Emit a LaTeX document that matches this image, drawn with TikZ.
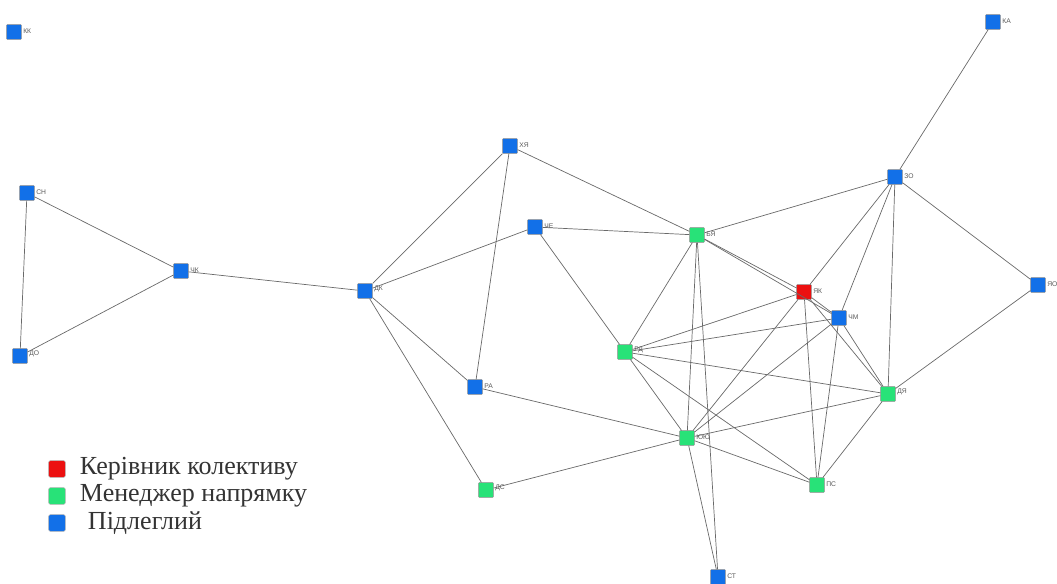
\documentclass[tikz,border=0pt]{standalone}
\usepackage{fontspec}
\setmainfont{Liberation Serif}
\setsansfont{Liberation Sans}
\usepackage{xcolor}
\definecolor{nwblue}{RGB}{18,112,232}
\definecolor{nwgreen}{RGB}{40,226,120}
\definecolor{nwred}{RGB}{236,16,16}
\definecolor{nwedge}{RGB}{105,105,105}
\definecolor{nwtext}{RGB}{90,90,90}
\usetikzlibrary{positioning}

\tikzset{
  member/.style={draw=black!45, line width=0.3pt, minimum size=0.37cm, inner sep=0pt, rounded corners=0.5pt},
  sub/.style={member, fill=nwblue},
  mgr/.style={member, fill=nwgreen},
  head/.style={member, fill=nwred},
  lbl/.style={font=\sffamily\fontsize{4.8}{5}\selectfont, text=nwtext, inner sep=1pt, anchor=south west},
  link/.style={nwedge, line width=0.5pt},
  keybox/.style={draw=black!30, minimum size=0.42cm, inner sep=0pt, rounded corners=1.5pt},
  keytext/.style={font=\fontsize{18.5}{20}\selectfont, text=black!80, anchor=west, inner sep=0pt}
}

\begin{document}
\begin{tikzpicture}[x=0.025cm, y=-0.025cm]
\useasboundingbox (0,0) rectangle (1057,584);

% ===== members =====
\node[sub,  label={[lbl]-20:КК}] (kk) at (14,32) {};
\node[sub,  label={[lbl]-20:СН}] (sn) at (27,193) {};
\node[sub,  label={[lbl]-20:ДО}] (do) at (20,356) {};
\node[sub,  label={[lbl]-20:ЧК}] (chk) at (181,271) {};
\node[sub,  label={[lbl]-20:ДК}] (dk) at (365,291) {};
\node[sub,  label={[lbl]-20:ХЯ}] (khya) at (510,146) {};
\node[sub,  label={[lbl]-20:ЧЕ}] (che) at (535,227) {};
\node[mgr,  label={[lbl]-20:БЯ}] (bya) at (697,235) {};
\node[mgr,  label={[lbl]-20:РД}] (rd) at (625,352) {};
\node[sub,  label={[lbl]-20:РА}] (ra) at (475,387) {};
\node[mgr,  label={[lbl]-20:ДС}] (ds) at (486,490) {};
\node[mgr,  label={[lbl]-20:ЮЮ}] (yuyu) at (687,438) {};
\node[sub,  label={[lbl]-20:СТ}] (st) at (718,577) {};
\node[mgr,  label={[lbl]-20:ПС}] (ps) at (817,485) {};
\node[mgr,  label={[lbl]-20:ДЯ}] (dya) at (888,394) {};
\node[sub,  label={[lbl]-20:ЧМ}] (chm) at (839,318) {};
\node[head, label={[lbl]-20:ЯК}] (yak) at (804,292) {};
\node[sub,  label={[lbl]-20:ЗО}] (zo) at (895,177) {};
\node[sub,  label={[lbl]-20:КА}] (ka) at (993,22) {};
\node[sub,  label={[lbl]-20:ЯО}] (yao) at (1038,285) {};

% ===== ties =====
\foreach \a/\b in {sn/do, sn/chk, do/chk, chk/dk,
                   dk/khya, dk/che, dk/ra, dk/ds,
                   khya/ra, khya/bya, che/bya, che/rd,
                   ra/yuyu, ds/yuyu,
                   bya/zo, bya/rd, bya/yak, bya/chm, bya/yuyu, bya/st,
                   rd/yak, rd/chm, rd/dya, rd/yuyu, rd/ps,
                   yuyu/yak, yuyu/chm, yuyu/dya, yuyu/ps, yuyu/st,
                   yak/zo, yak/chm, yak/ps, yak/dya,
                   chm/zo, chm/ps, chm/dya,
                   zo/ka, zo/dya, zo/yao, yao/dya, dya/ps}
  \draw[link] (\a) -- (\b);

% ===== legend =====
\node[keybox, fill=nwred]   (kred)   at (57,469) {};
\node[keybox, fill=nwgreen] (kgreen) at (57,496) {};
\node[keybox, fill=nwblue]  (kblue)  at (57,523) {};
\node[keytext, right=0.35cm of kred]   {Керівник колективу};
\node[keytext, right=0.35cm of kgreen] {Менеджер напрямку};
\node[keytext, right=0.55cm of kblue]  {Підлеглий};

\end{tikzpicture}
\end{document}
